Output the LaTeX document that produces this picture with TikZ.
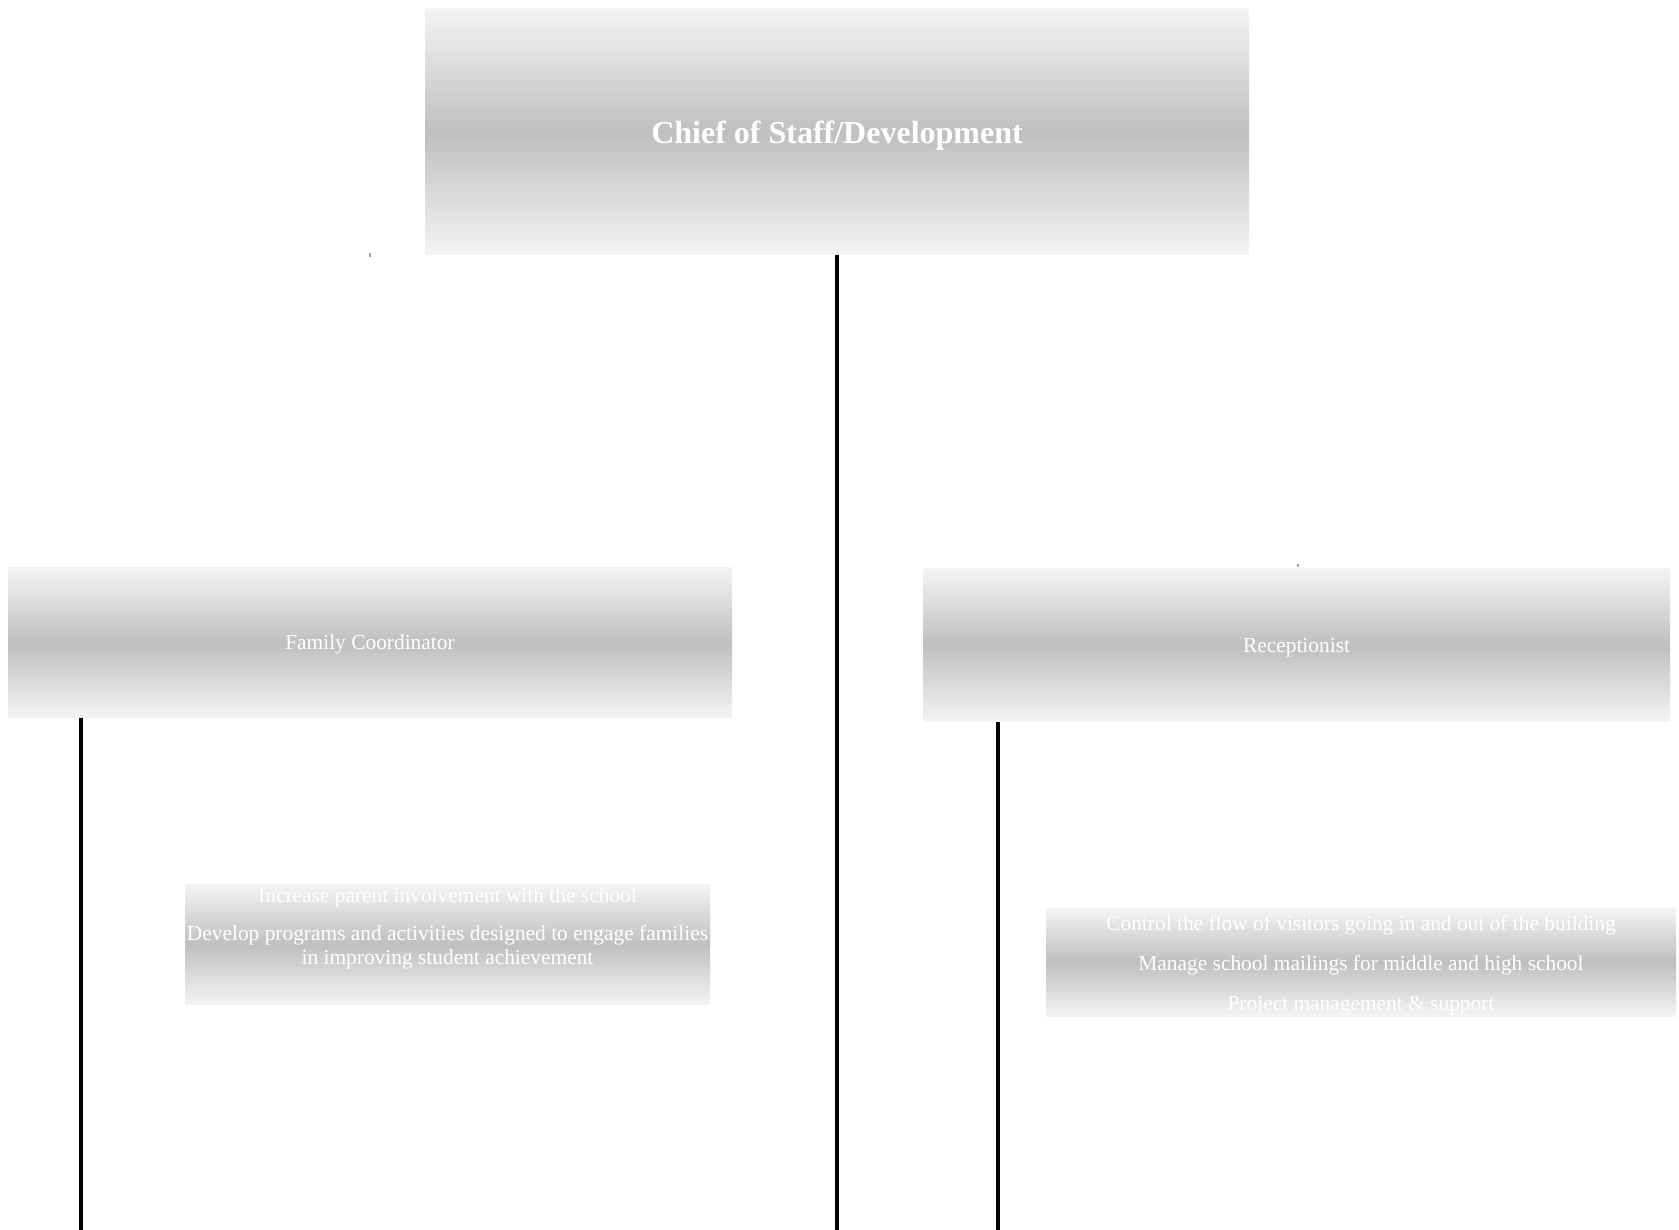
\documentclass[tikz,border=0pt]{standalone}
\usepackage{fontspec}
\setmainfont{Liberation Serif}
\usetikzlibrary{positioning,calc}

\tikzset{
  rolebox/.style={top color=gray!9,bottom color=gray!9,middle color=gray!50,
    draw=none,text=white,inner sep=0pt,align=center,text depth=0pt,
    font=\fontsize{21.4}{23.5}\selectfont},
  tasktext/.style={text=white,inner sep=0pt,align=center,
    font=\fontsize{21.4}{23.5}\selectfont},
  link/.style={line width=3.5pt,black},
  stub/.style={line width=1.2pt,gray!70},
}

\begin{document}
\begin{tikzpicture}[x=1pt,y=-1pt]
\useasboundingbox (0,0) rectangle (1679,1230);
\coordinate (floor) at (0,1230);

\node[rolebox,minimum width=824pt,minimum height=246pt,
  font=\fontsize{32}{38}\selectfont\bfseries] (chief) at (837,132) {Chief of Staff/Development};
\node[rolebox,minimum width=724pt,minimum height=150pt] (family) at (370,642.5) {Family Coordinator};
\node[rolebox,minimum width=747pt,minimum height=153pt] (recept) at (1296.5,645) {Receptionist};

\node[rolebox,minimum width=525pt,minimum height=120pt] (familytasks) at (447.5,944.5) {};
\node[tasktext,below=3pt of familytasks.north] (familytext) {Increase parent involvement with the school\\[15pt]
  Develop programs and activities designed to engage families\\ in improving student achievement};
\node[rolebox,minimum width=630pt,minimum height=108pt] (recepttasks) at (1361,962) {};
\node[tasktext] (recepttext) at ($(recepttasks)+(0,3)$) {Control the flow of visitors going in and out of the building\\[16.5pt]
  Manage school mailings for middle and high school\\[16.5pt] Project management \& support};

% connectors
\coordinate (famleg) at ($(family.south west)+(73,0)$);
\coordinate (recleg) at ($(recept.south west)+(75,0)$);
\draw[link] (chief.south) -- (chief.south |- floor);
\draw[link] (famleg) -- (famleg |- floor);
\draw[link] (recleg) -- (recleg |- floor);
\draw[stub] ($(family.north |- chief.south)+(0,2)$) -- ++(0,-4);
\draw[stub] ($(recept.north)+(1.5,-1)$) -- ++(0,-3);
\end{tikzpicture}
\end{document}
